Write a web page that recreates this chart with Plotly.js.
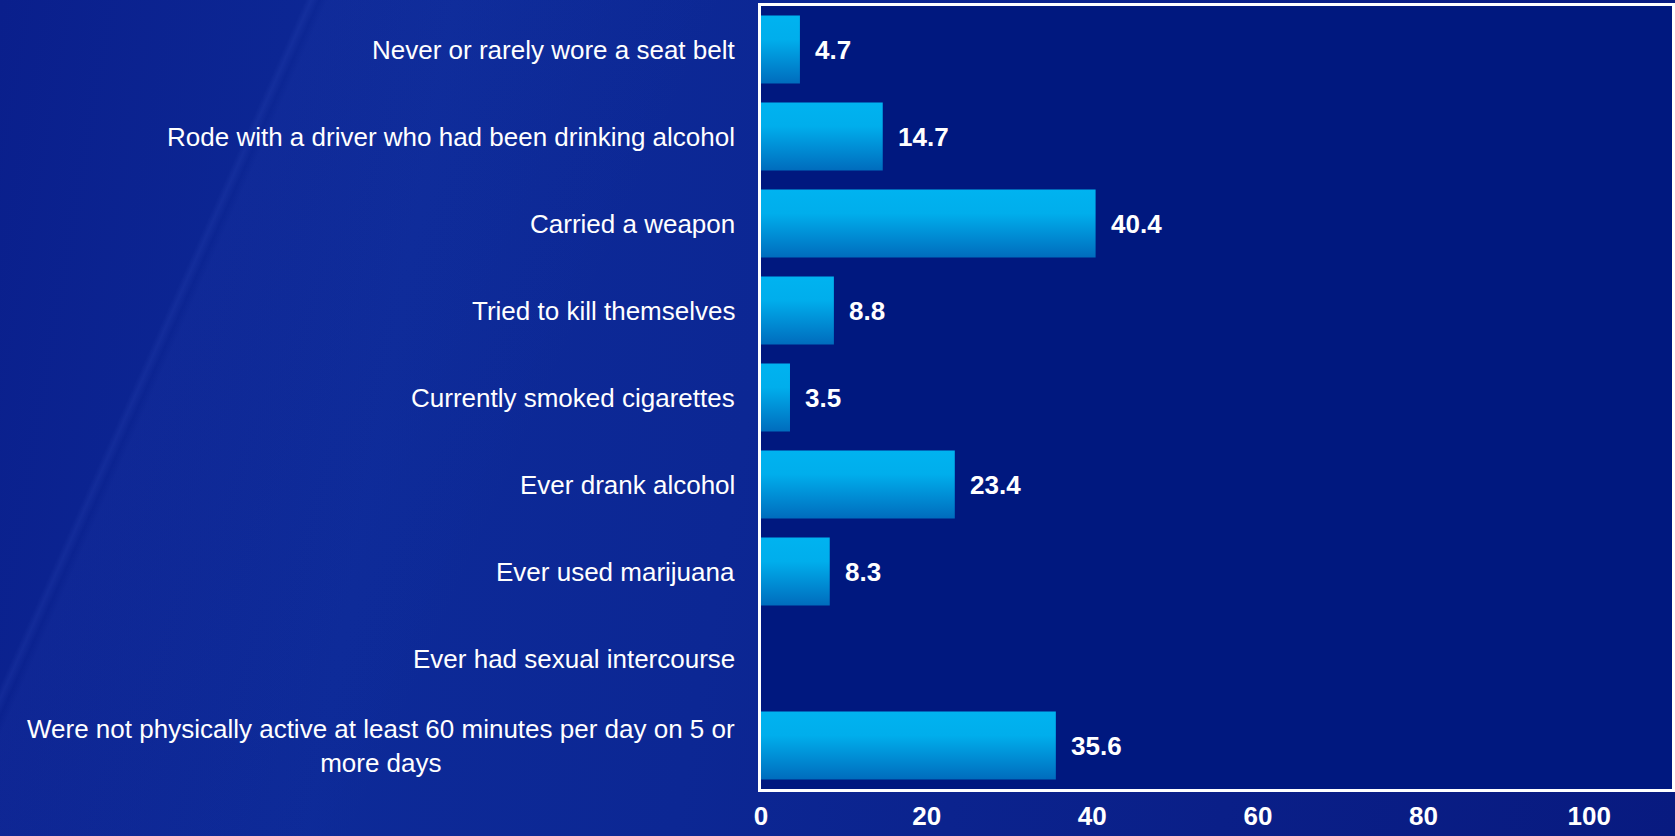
<!DOCTYPE html>
<html>
<head>
<meta charset="utf-8">
<script src="https://cdn.plot.ly/plotly-3.0.1.min.js"></script>
<style>
  html, body { margin:0; padding:0; width:1675px; height:836px; overflow:hidden; }
  body {
    background:
      linear-gradient(114deg, rgba(255,255,255,0) 0%, rgba(255,255,255,0) 14.9%, rgba(110,140,255,0.08) 15.2%, rgba(255,255,255,0) 15.6%, rgba(255,255,255,0) 100%),
      linear-gradient(114deg, rgba(255,255,255,0) 0%, rgba(255,255,255,0) 15.6%, rgba(90,120,240,0.05) 16%, rgba(90,120,240,0.025) 26%, rgba(255,255,255,0) 36%, rgba(255,255,255,0) 100%),
      linear-gradient(100deg, #0a1f8c 0%, #0d2a98 25%, #0c2794 45%, #0a1f88 75%, #081a80 100%);
  }
  #chart { width:1675px; height:836px; }
</style>
</head>
<body>
<div id="chart"></div>
<script>
// ---- data ----
const categories = [
  "Never or rarely wore a seat belt",
  "Rode with a driver who had been drinking alcohol",
  "Carried a weapon",
  "Tried to kill themselves",
  "Currently smoked cigarettes",
  "Ever drank alcohol",
  "Ever used marijuana",
  "Ever had sexual intercourse",
  "Were not physically active at least 60 minutes per day on 5 or<br>more days"
];
const values = [4.7, 14.7, 40.4, 8.8, 3.5, 23.4, 8.3, null, 35.6];
const xTicks = [0, 20, 40, 60, 80, 100];

const FONT = "Liberation Sans, Arial, Helvetica, sans-serif";

const trace = {
  type: "bar",
  orientation: "h",
  x: values,
  y: categories,
  width: 0.78,
  marker: { color: "#0095de", line: { width: 0 } },
  hoverinfo: "x+y"
};

const annotations = [];
categories.forEach((c, i) => {
  annotations.push({
    xref: "paper", yref: "y", x: 0, y: c,
    xanchor: "right", yanchor: "middle", xshift: -24,
    align: "center", showarrow: false, text: c,
    font: { family: FONT, size: 26, color: "#ffffff" }
  });
  if (values[i] !== null) {
    annotations.push({
      xref: "x", yref: "y", x: values[i], y: c,
      xanchor: "left", yanchor: "middle", xshift: 13,
      showarrow: false, text: "<b>" + values[i].toFixed(1) + "</b>",
      font: { family: FONT, size: 26, color: "#ffffff" }
    });
  }
});

const layout = {
  width: 1675, height: 836,
  margin: { l: 761, r: 3, t: 6, b: 47, pad: 0 },
  paper_bgcolor: "rgba(0,0,0,0)",
  plot_bgcolor: "#00187f",
  showlegend: false,
  xaxis: {
    range: [0, 110],
    tickvals: xTicks,
    ticktext: xTicks.map(String),
    showgrid: false, zeroline: false,
    showline: true, mirror: true, linecolor: "#ffffff", linewidth: 3,
    ticks: "outside", ticklen: 2, tickcolor: "rgba(0,0,0,0)",
    tickfont: { family: FONT, size: 26, color: "#ffffff", weight: "bold" },
    fixedrange: true
  },
  yaxis: {
    type: "category",
    categoryorder: "array", categoryarray: categories,
    autorange: "reversed",
    showticklabels: false,
    showgrid: false, zeroline: false,
    showline: true, mirror: true, linecolor: "#ffffff", linewidth: 3,
    ticks: "", fixedrange: true
  },
  annotations: annotations
};

Plotly.newPlot("chart", [trace], layout, { displayModeBar: false, staticPlot: true }).then(gd => {
  const svg = gd.querySelector("svg.main-svg");
  let defs = svg.querySelector("defs");
  const NS = "http://www.w3.org/2000/svg";
  if (!defs) { defs = document.createElementNS(NS, "defs"); svg.insertBefore(defs, svg.firstChild); }
  const lg = document.createElementNS(NS, "linearGradient");
  lg.setAttribute("id", "barGrad");
  lg.setAttribute("x1", "0"); lg.setAttribute("y1", "0");
  lg.setAttribute("x2", "0"); lg.setAttribute("y2", "1");
  [["0", "#00b3f0"], ["0.35", "#00aeec"], ["1", "#006cbd"]].forEach(([o, c]) => {
    const s = document.createElementNS(NS, "stop");
    s.setAttribute("offset", o); s.setAttribute("stop-color", c);
    lg.appendChild(s);
  });
  defs.appendChild(lg);
  gd.querySelectorAll(".bars .point path").forEach(p => { p.style.fill = "url(#barGrad)"; });
});
</script>
</body>
</html>
